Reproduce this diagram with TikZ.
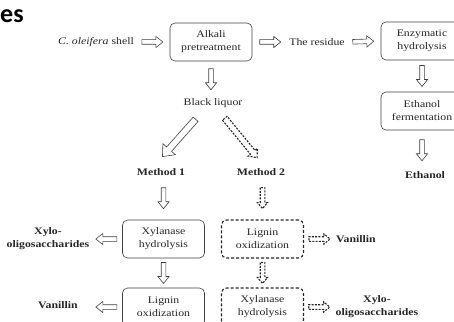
\documentclass[tikz,border=0pt]{standalone}
\usepackage{fontspec}
\setmainfont{Liberation Serif}[FakeStretch=1.18]
\newfontfamily\headfont{Carlito}
\usepackage{tikz}
\usetikzlibrary{calc}

\begin{document}
\begin{tikzpicture}[x=1pt, y=-1pt, font=\fontsize{10}{13}\selectfont, text=black!85,
  box/.style={draw=black!75, line width=0.6pt, rounded corners=5pt, minimum width=82pt,
    minimum height=38pt, align=center, inner sep=1pt},
  dashbox/.style={box, draw=black!85, line width=1.1pt, dash pattern=on 3pt off 2pt},
  txt/.style={align=center, inner sep=1pt},
  result/.style={txt, font=\fontsize{10}{13}\selectfont\bfseries},
  arr len/.store in=\arrlen, arr shaft/.store in=\arrshaft,
  arr head/.store in=\arrhead, arr tip/.store in=\arrtip,
  arr len=21, arr shaft=2.3, arr head=5.6, arr tip=7,
  blockarrow/.style={draw=black!75, line width=0.6pt, to path={
    let \p1=(\tikztostart), \p2=(\tikztotarget),
        \n1={atan2(\y2-\y1,\x2-\x1)}, \n2={veclen(\x2-\x1,\y2-\y1)/2} in
    {[shift={(\p1)}, rotate=\n1, x=1pt, y=1pt]
      ({\n2-\arrlen/2},{-\arrshaft}) -- ({\n2+\arrlen/2-\arrtip},{-\arrshaft})
      -- ({\n2+\arrlen/2-\arrtip},{-\arrhead}) -- ({\n2+\arrlen/2},0)
      -- ({\n2+\arrlen/2-\arrtip},\arrhead) -- ({\n2+\arrlen/2-\arrtip},\arrshaft)
      -- ({\n2-\arrlen/2},\arrshaft) -- cycle}}},
  dasharrow/.style={blockarrow, draw=black!85, line width=1.1pt,
    dash pattern=on 2pt off 1.3pt, arr head=5, arr tip=6},
  bigarrow/.style={blockarrow, arr len=50, arr shaft=3.3, arr head=8.3, arr tip=10}]

\clip (0,0) rectangle (454,321);

% heading fragment
\node[anchor=base west, inner sep=0, text=black,
  font=\headfont\fontsize{26}{26}\selectfont\bfseries] (head) at (0,23) {es};

%%%%%%%%%%%% top row %%%%%%%%%%%%
\node[txt] (shell) at (96,42) {\textit{C. oleifera} shell};
\node[box] (alkali) at (211,42) {Alkali\\pretreatment};
\node[txt] (residue) at (317,42) {The residue};
\node[box] (enzym) at (422,41) {Enzymatic\\hydrolysis};
\node[box] (ferm) at (422,111) {Ethanol\\fermentation};
\node[result] (ethanol) at (425,175) {Ethanol};
\node[txt] (liquor) at (213,103) {Black liquor};

%%%%%%%%%%%% methods %%%%%%%%%%%%
\node[result] (meth1) at (161,172) {Method 1};
\node[result] (meth2) at (261,172) {Method 2};

\node[box] (xyl1) at (163.5,239) {Xylanase\\hydrolysis};
\node[box] (lig1) at (163.5,307) {Lignin\\oxidization};
\node[dashbox] (lig2) at (262.5,239) {Lignin\\oxidization};
\node[dashbox] (xyl2) at (262.5,307) {Xylanase\\hydrolysis};

% products
\node[result] (xos1) at (48,239) {Xylo-\\oligosaccharides};
\node[result] (van1) at (58,305) {Vanillin};
\node[result] (van2) at (356,239) {Vanillin};
\node[result] (xos2) at (377,307) {Xylo-\\oligosaccharides};

%%%%%%%%%%%% arrows %%%%%%%%%%%%
\draw[blockarrow] (shell.east) to (alkali.west);
\draw[blockarrow] (alkali.east) to (residue.west);
\draw[blockarrow] (residue.east) to (enzym.west);
\draw[blockarrow] (enzym.south) to (ferm.north);
\draw[blockarrow] (ferm.south) to (ferm.south |- ethanol.north);
\draw[blockarrow] (alkali.south) to (alkali.south |- liquor.north);

\draw[bigarrow] ([xshift=-8pt]liquor.south) to ([xshift=-8pt]meth1.north);
\draw[dasharrow, arr len=51, arr shaft=3, arr head=6, arr tip=7]
  ([xshift=4pt]liquor.south) to ([xshift=4pt]meth2.north);

\draw[blockarrow] (xyl1.north |- meth1.south) to (xyl1.north);
\draw[blockarrow] (xyl1.south) to (lig1.north);
\draw[blockarrow] (xyl1.west) to (xos1.east);
\draw[blockarrow] (lig1.west) to (lig1.west -| xos1.east);

\draw[dasharrow] (lig2.north |- meth2.south) to (lig2.north);
\draw[dasharrow] (lig2.south) to (xyl2.north);
\draw[dasharrow] (lig2.east) to (van2.west);
\draw[dasharrow] (xyl2.east) to (xos2.west);

\end{tikzpicture}
\end{document}
